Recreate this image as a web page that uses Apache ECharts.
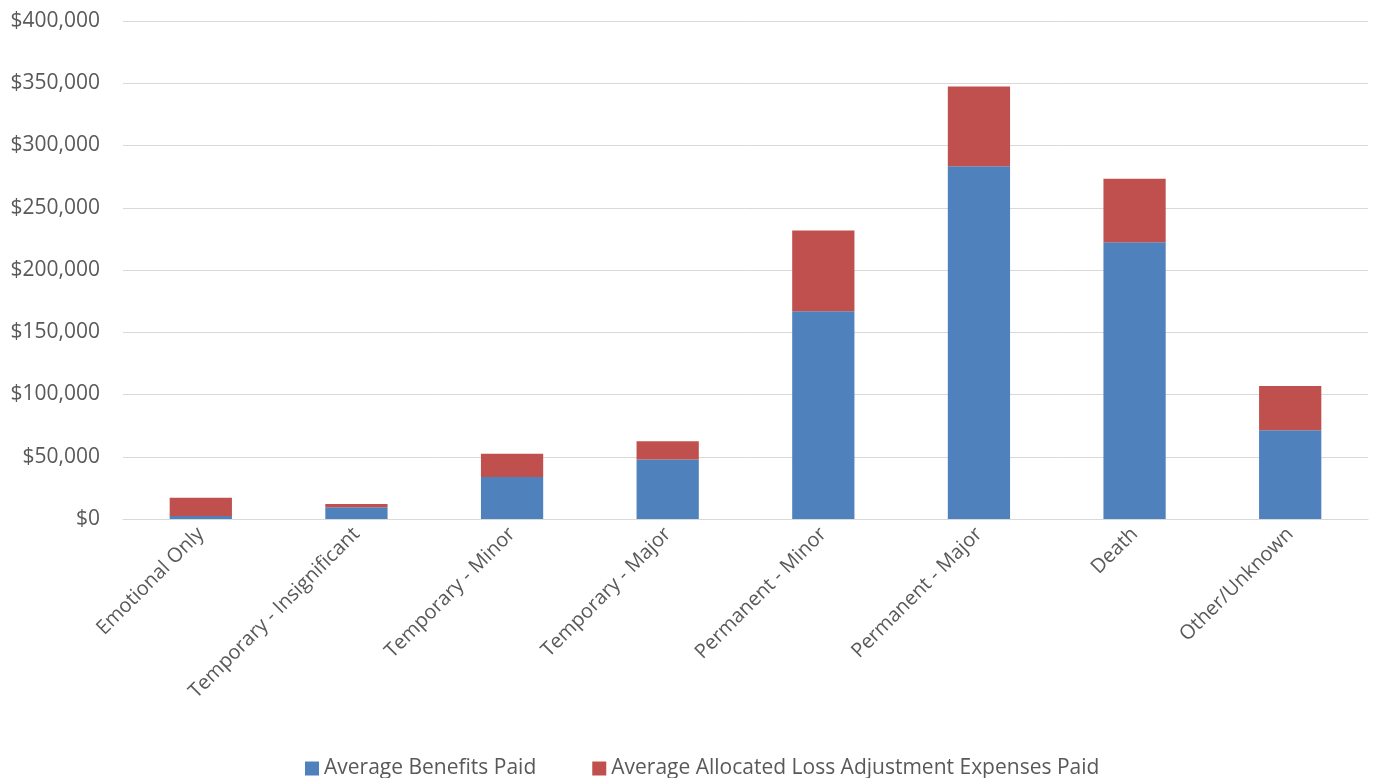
<!DOCTYPE html>
<html>
<head>
<meta charset="utf-8">
<script src="https://cdn.jsdelivr.net/npm/echarts@6/dist/echarts.min.js"></script>
<style>
    html, body { margin: 0; padding: 0; background: #fff; }
    #chart { width: 1379px; height: 778px; }
</style>
</head>
<body>
<div id="chart"></div>
<script>
    var categories = ['Emotional Only', 'Temporary - Insignificant', 'Temporary - Minor', 'Temporary - Major',
        'Permanent - Minor', 'Permanent - Major', 'Death', 'Other/Unknown'];
    // blue part and the red part stacked on top
    var benefitsPaid = [2400, 9400, 33700, 47700, 166900, 283400, 222200, 71300];
    var totalPaid = [17100, 12100, 52500, 62400, 231800, 347300, 273200, 106900];
    var expensesPaid = totalPaid.map(function (t, i) { return t - benefitsPaid[i]; });

    var mychart = echarts.init(document.getElementById('chart'));
    var font = '"Open Sans", Lato, sans-serif';
    var option = {
        animation: false,
        textStyle: { fontFamily: font },
        grid: { left: 123, right: 11, top: 21, bottom: 259 },
        legend: {
            bottom: -6,
            left: 300,
            itemWidth: 14,
            itemHeight: 14,
            itemGap: 56,
            icon: 'rect',
            textStyle: { fontSize: 21, color: '#595959', fontFamily: font },
            data: ['Average Benefits Paid', 'Average Allocated Loss Adjustment Expenses Paid']
        },
        xAxis: {
            type: 'category',
            data: categories,
            axisLine: { lineStyle: { color: '#d9d9d9', width: 1 } },
            axisTick: { show: false },
            axisLabel: { rotate: 45, fontSize: 20, color: '#595959', margin: 12, interval: 0 }
        },
        yAxis: {
            type: 'value',
            min: 0,
            max: 400000,
            interval: 50000,
            axisLine: { show: false },
            axisTick: { show: false },
            splitLine: { lineStyle: { color: '#d9d9d9', width: 1 } },
            axisLabel: {
                fontSize: 21,
                color: '#595959',
                margin: 23,
                formatter: function (v) { return '$' + v.toLocaleString('en-US'); }
            }
        },
        series: [{
            name: 'Average Benefits Paid',
            type: 'bar',
            stack: 'total',
            barWidth: '40%',
            itemStyle: { color: '#4f81bd' },
            data: benefitsPaid
        }, {
            name: 'Average Allocated Loss Adjustment Expenses Paid',
            type: 'bar',
            stack: 'total',
            barWidth: '40%',
            itemStyle: { color: '#c0504d' },
            data: expensesPaid
        }]
    };
    mychart.setOption(option);
</script>
</body>
</html>
